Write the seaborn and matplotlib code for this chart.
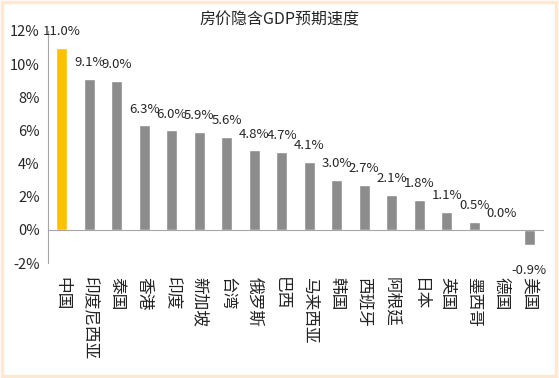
import numpy as np
import pandas as pd
import matplotlib
matplotlib.use("Agg")
import matplotlib.pyplot as plt
import matplotlib.transforms as mtransforms
from matplotlib.patches import Rectangle
import seaborn as sns

# data
countries = ['中国', '印度尼西亚', '泰国', '香港', '印度', '新加坡', '台湾', '俄罗斯', '巴西',
             '马来西亚', '韩国', '西班牙', '阿根廷', '日本', '英国', '墨西哥', '德国', '美国']
growth = [11.0, 9.1, 9.0, 6.3, 6.0, 5.9, 5.6, 4.8, 4.7,
          4.1, 3.0, 2.7, 2.1, 1.8, 1.1, 0.5, 0.0, -0.9]
yticks = [-2, 0, 2, 4, 6, 8, 10, 12]

df = pd.DataFrame({'country': countries, 'growth': growth})

sns.set_style('white')
plt.rcParams['font.family'] = ['Noto Sans CJK SC', 'DejaVu Sans']

fig = plt.figure(figsize=(5.59, 3.78), dpi=100)
ax = fig.add_axes([0.086, 0.304, 0.885, 0.614])

colors = ['#FFC000'] + ['#8C8C8C'] * (len(countries) - 1)
sns.barplot(data=df, x='country', y='growth', hue='country', palette=colors,
            legend=False, width=0.4, ax=ax, saturation=1)

ax.set_ylim(-2, 12)
ax.set_xlim(-0.5, len(countries) - 0.5)
ax.set_yticks(yticks)
ax.set_yticklabels([f'{v}%' for v in yticks], fontsize=10.5)
ax.set_xlabel('')
ax.set_ylabel('')

# x axis sits on the zero line, ticks between categories
for s in ['top', 'right']:
    ax.spines[s].set_visible(False)
ax.spines['left'].set_color('#A6A6A6')
ax.spines['bottom'].set_color('#A6A6A6')
ax.spines['bottom'].set_position(('data', 0))
ax.set_xticks(np.arange(len(countries) + 1) - 0.5)
ax.set_xticklabels([])
ax.tick_params(axis='x', direction='out', length=4, color='#A6A6A6', pad=0)
ax.tick_params(axis='y', direction='out', length=4, color='#A6A6A6', pad=2)

# category labels below the plot area
trans = mtransforms.blended_transform_factory(ax.transData, ax.transAxes)
for i, name in enumerate(countries):
    ax.text(i, -0.06, name, transform=trans, rotation=270, ha='center', va='top',
            fontsize=12, color='#222222')

# value labels
for i, v in enumerate(growth):
    if v < 0:
        ax.annotate(f'{v:.1f}%', (i, v), xytext=(0, -14), textcoords='offset points',
                    ha='center', va='top', fontsize=9.5)
    else:
        ax.annotate(f'{v:.1f}%', (i, v), xytext=(0, 7), textcoords='offset points',
                    ha='center', va='bottom', fontsize=9.5)

fig.text(0.5, 0.948, '房价隐含GDP预期速度', ha='center', va='center', fontsize=11.5)

fig.patches.append(Rectangle((0.003, 0.005), 0.991, 0.99, transform=fig.transFigure,
                             fill=False, edgecolor='#FCE9D4', linewidth=2.5))

fig.savefig('out.png', dpi=100)
